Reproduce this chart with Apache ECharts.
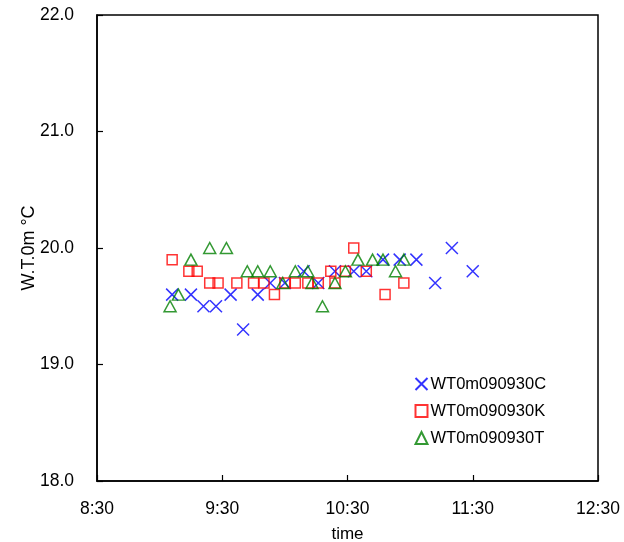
<!DOCTYPE html>
<html>
<head>
<meta charset="utf-8">
<script src="https://cdn.jsdelivr.net/npm/echarts@6/dist/echarts.min.js"></script>
<style>
  html, body { margin: 0; padding: 0; background: #fff; }
  #chart { width: 624px; height: 542px; }
</style>
</head>
<body>
<div id="chart"></div>
<script>
// Water temperature at 0 m, 2009-09-30, three stations
const seriesNames = ['WT0m090930C', 'WT0m090930K', 'WT0m090930T'];

const timesC = ['9:06','9:15','9:21','9:27','9:34','9:40','9:47','9:53','10:00','10:09',
                '10:16','10:24','10:33','10:39','10:47','10:55','11:03','11:12','11:20','11:30'];
const tempsC = [19.6,19.6,19.5,19.5,19.6,19.3,19.6,19.7,19.7,19.8,
                19.7,19.8,19.8,19.8,19.9,19.9,19.9,19.7,20.0,19.8];

const timesK = ['9:06','9:14','9:18','9:24','9:28','9:37','9:45','9:50','9:55','10:00',
                '10:05','10:11','10:16','10:22','10:24','10:29','10:33','10:39','10:48','10:57'];
const tempsK = [19.9,19.8,19.8,19.7,19.7,19.7,19.7,19.7,19.6,19.7,
                19.7,19.7,19.7,19.8,19.7,19.8,20.0,19.8,19.6,19.7];

const timesT = ['9:05','9:09','9:15','9:24','9:32','9:42','9:47','9:53','9:59','10:05',
                '10:11','10:13','10:18','10:24','10:29','10:35','10:42','10:47','10:53','10:57'];
const tempsT = [19.5,19.6,19.9,20.0,20.0,19.8,19.8,19.8,19.7,19.8,
                19.8,19.7,19.5,19.7,19.8,19.9,19.9,19.9,19.8,19.9];

// x-axis range and ticks, in clock time
const xMin = '8:30';
const xMax = '12:30';
const yMin = 18;
const yMax = 22;

function toMinutes(s) {
  const [h, m] = s.split(':').map(Number);
  return h * 60 + m;
}
function fmtClock(v) {
  const h = Math.floor(v / 60);
  const m = Math.round(v - h * 60);
  return h + ':' + (m < 10 ? '0' + m : m);
}
function pairs(times, temps) {
  return times.map((t, i) => [toMinutes(t), temps[i]]);
}

const FONT = 'Liberation Sans, Arial, sans-serif';
const crossPath = 'path://M0,0L10,10M10,0L0,10';

const chart = echarts.init(document.getElementById('chart'), null, { renderer: 'canvas' });

chart.setOption({
  animation: false,
  backgroundColor: '#fff',
  textStyle: { fontFamily: FONT, color: '#000' },
  grid: {
    left: 97, right: 26, top: 15, bottom: 61,
    outerBoundsMode: 'none',
    containLabel: false,
    show: true, borderColor: '#000', borderWidth: 1.5, backgroundColor: 'transparent'
  },
  legend: {
    orient: 'vertical',
    left: 408, top: 370,
    itemGap: 9,
    itemWidth: 12, itemHeight: 12,
    textStyle: { fontFamily: FONT, fontSize: 16.5, lineHeight: 18, color: '#000', padding: [0, 0, 0, -2] },
    data: seriesNames
  },
  xAxis: {
    type: 'value',
    min: toMinutes(xMin), max: toMinutes(xMax), interval: 60,
    name: 'time', nameLocation: 'middle', nameGap: 45,
    nameMoveOverlap: false,
    nameTextStyle: { fontFamily: FONT, fontSize: 17, color: '#000' },
    axisLine: { show: true, lineStyle: { color: '#000', width: 1.5 } },
    axisTick: { show: true, inside: true, length: 6, lineStyle: { color: '#000', width: 1.2 } },
    axisLabel: { fontFamily: FONT, fontSize: 17.5, color: '#000', margin: 19, formatter: v => fmtClock(v) },
    splitLine: { show: false }
  },
  yAxis: {
    type: 'value',
    min: yMin, max: yMax, interval: 1,
    name: 'W.T.0m °C', nameLocation: 'middle', nameGap: 59,
    nameMoveOverlap: false,
    nameTextStyle: { fontFamily: FONT, fontSize: 18, color: '#000' },
    axisLine: { show: true, lineStyle: { color: '#000', width: 1.5 } },
    axisTick: { show: true, inside: true, length: 6, lineStyle: { color: '#000', width: 1.2 } },
    axisLabel: { fontFamily: FONT, fontSize: 17.5, color: '#000', margin: 23, formatter: v => v.toFixed(1) },
    splitLine: { show: false }
  },
  series: [
    {
      name: seriesNames[0], type: 'scatter',
      symbol: crossPath, symbolSize: 12,
      itemStyle: { color: 'none', borderColor: '#0000ff', borderWidth: 1.5 },
      data: pairs(timesC, tempsC)
    },
    {
      name: seriesNames[1], type: 'scatter',
      symbol: 'rect', symbolSize: 10,
      itemStyle: { color: 'none', borderColor: '#ff0000', borderWidth: 1.5 },
      data: pairs(timesK, tempsK)
    },
    {
      name: seriesNames[2], type: 'scatter',
      symbol: 'triangle', symbolSize: [12, 11],
      itemStyle: { color: 'none', borderColor: '#008000', borderWidth: 1.5 },
      data: pairs(timesT, tempsT)
    }
  ]
});
</script>
</body>
</html>
